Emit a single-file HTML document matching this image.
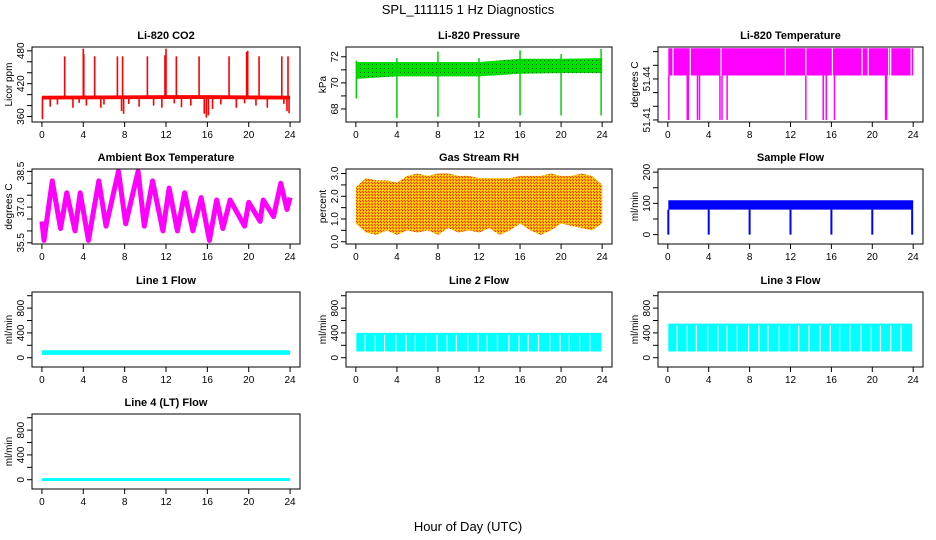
<!DOCTYPE html>
<html><head><meta charset="utf-8"><style>
body{margin:0;background:#fff}
svg{display:block;font-family:"Liberation Sans",sans-serif}
</style></head><body>
<svg id="c" width="936" height="540" viewBox="0 0 936 540">
<defs>
<pattern id="rhpat" width="3" height="3" patternUnits="userSpaceOnUse"><rect width="3" height="3" fill="#ffb000"/><rect width="1" height="1" fill="#ff2000"/><rect x="1" y="1" width="1" height="1" fill="#ffff00"/><rect x="2" y="2" width="1" height="1" fill="#ff4000"/></pattern>
<pattern id="prpat" width="4" height="4" patternUnits="userSpaceOnUse"><rect width="4" height="4" fill="#00e000"/><rect width="1" height="1" fill="#006000"/></pattern>
</defs>
<text x="468" y="14" text-anchor="middle" font-size="13">SPL_111115  1 Hz Diagnostics</text>
<text x="468" y="531" text-anchor="middle" font-size="13">Hour of Day (UTC)</text>
</svg>
<script>
// ---- data arrays ----
const hourTicks = [0,4,8,12,16,20,24];
// CO2
const co2BandT = [0,12,16,24];
const co2BandLo = [391,392,392,391];
const co2BandHi = [398,399,399,398];
const co2SpikeT = [2.2,4.0,4.05,5.1,7.3,7.8,10.2,11.9,12.0,13.0,15.2,18.1,19.8,19.9,21.0,23.2,23.8];
const co2SpikeV = [470,484,474,470,470,470,470,472,484,470,470,470,478,480,470,470,470];
const co2DipT = [0.05,0.8,1.5,3.0,3.6,4.3,5.7,6.0,7.7,7.9,8.4,9.4,10.8,11.6,12.8,13.5,14.4,15.7,15.9,16.1,16.5,17.3,18.8,19.6,20.7,21.8,23.4,23.7,23.9];
const co2DipV = [355,378,382,376,385,380,376,382,370,365,383,378,380,376,384,377,380,365,358,362,374,382,376,384,380,376,383,370,366];
// Pressure
const prBandT = [0,4,8,12,16,20,24];
const prBandLo = [70.3,70.5,70.5,70.5,70.7,70.75,70.75];
const prBandHi = [71.6,71.6,71.6,71.6,71.85,71.85,71.9];
const prDipT = [0.05,4,8,12,16,20,23.9];
const prDipV = [68.8,67.3,67.4,67.3,67.5,67.5,67.5];
const prSpikeV = [71.7,71.9,72.4,71.9,72.5,72.2,72.6];
// Li-820 temperature
const ltGapT = [0.5,2.2,5.2,11.5,13.5,16.1,19.0,19.6,21.6,21.8,23.8];
const ltDipT = [0.1,1.9,2.0,2.9,3.1,5.1,5.3,5.8,13.5,15.2,15.5,16.3,21.3,21.4];
const ltBandLo = 51.4425, ltBandHi = 51.4625, ltDipV = 51.41;
// Ambient box temperature (alternating extrema)
const ambT = [0,0.2,1.0,1.8,2.4,3.2,3.7,4.5,5.5,6.2,7.4,8.1,9.3,9.9,10.7,11.7,12.3,13.1,13.8,14.6,15.4,16.2,16.9,17.5,18.2,19.6,20.0,21.1,21.4,22.4,23.1,23.7,24];
const ambV = [36.4,35.6,38.1,36.1,37.6,36.0,37.6,35.6,38.1,36.2,38.5,36.3,38.5,36.2,38.1,36.0,37.8,36.0,37.6,36.0,37.4,35.6,37.3,36.1,37.3,36.2,37.2,36.4,37.3,36.6,38.0,36.9,37.4];
// Gas stream RH (hourly envelope)
const rhHi = [2.4,2.8,2.7,2.7,2.6,2.9,3.0,2.9,3.0,3.0,2.9,2.9,2.8,2.8,2.8,2.8,2.9,2.9,2.9,3.0,2.9,2.9,3.0,2.9,2.5];
const rhLo = [0.8,0.4,0.3,0.5,0.3,0.5,0.4,0.5,0.3,0.6,0.4,0.5,0.4,0.6,0.3,0.5,0.8,0.5,0.3,0.5,0.8,0.7,0.6,0.5,0.8];
// Sample flow
const sfLo = 80, sfHi = 110;
const sfDipT = [0.05,4,8,12,16,20,23.9];
const sfDipV = [0,0,0,0,0,0,0];
// Line flows
const l1Lo = 45, l1Hi = 120;
const l2Lo = 100, l2Hi = 400;
const l3Lo = 100, l3Hi = 550;
const l4Lo = -20, l4Hi = 25;
const lineGapT = [0.9,1.9,2.8,3.9,4.9,5.8,6.8,7.9,8.9,9.8,10.9,11.9,12.8,13.8,14.9,15.9,16.8,17.8,18.9,19.9,20.8,21.8,22.8];

// ---- helpers ----
const svg = document.getElementById('c');
const NS = 'http://www.w3.org/2000/svg';
function mk(tag, attrs, parent){const e=document.createElementNS(NS,tag);for(const k in attrs)e.setAttribute(k,attrs[k]);(parent||svg).appendChild(e);return e;}
const cols=[[32,300],[346,612],[658,923]];
const rows=[[47,122],[169,244],[292,367],[414,489]];
function panel(ci,ri,ymin,ymax,title,ylab,ticks,labels,name){
  const [L,R]=cols[ci],[T,B]=rows[ri];
  const g=mk('g',{});
  
  
  const xs=h=>L+(h+0.96)/25.92*(R-L);
  const ys=v=>B-(v-ymin)/(ymax-ymin)*(B-T);
  const t=mk('text',{x:(L+R)/2,y:T-8,'text-anchor':'middle','font-size':11,'font-weight':'bold'},g);t.textContent=title;
  
  
  const yl=mk('text',{transform:`translate(${L-20},${(T+B)/2}) rotate(-90)`,'text-anchor':'middle','font-size':10},g);yl.textContent=ylab;
  
  
  hourTicks.forEach(h=>{mk('line',{x1:xs(h),x2:xs(h),y1:B,y2:B+5,stroke:'#000'},g);
    const tx=mk('text',{x:xs(h),y:B+16,'text-anchor':'middle','font-size':10},g);tx.textContent=h;});
  ticks.forEach((v,i)=>{mk('line',{x1:L-5,x2:L,y1:ys(v),y2:ys(v),stroke:'#000'},g);
    if(labels[i]!==''){const tx=mk('text',{transform:`translate(${L-8},${ys(v)}) rotate(-90)`,'text-anchor':'middle','font-size':10},g);tx.textContent=labels[i];}});
  const data=mk('g',{},g);
  return {g,data,xs,ys,L,R,T,B};
}
function frame(p){mk('rect',{x:p.L,y:p.T,width:p.R-p.L,height:p.B-p.T,fill:'none',stroke:'#000'},p.g);}
function band(p,T,lo,hi,fill){
  let d='M'+T.map((t,i)=>p.xs(t)+','+p.ys(hi[i])).join('L');
  for(let i=T.length-1;i>=0;i--)d+='L'+p.xs(T[i])+','+p.ys(lo[i]);
  mk('path',{d:d+'Z',fill:fill},p.data);
}
function vlines(p,T,v0,V,color,w){T.forEach((t,i)=>mk('line',{x1:p.xs(t),x2:p.xs(t),y1:p.ys(Array.isArray(v0)?v0[i]:v0),y2:p.ys(V[i]),stroke:color,'stroke-width':w||1.2},p.data));}
const hrs=rhHi.map((_,i)=>i);

// CO2
let p=panel(0,0,350,487,'Li-820 CO2','Licor ppm',[360,380,400,420,440,460,480],['360','','','420','','','480'],'co2-panel');
band(p,co2BandT,co2BandLo,co2BandHi,'#ff0000');
vlines(p,co2SpikeT,395,co2SpikeV,'#ff0000',1.6);
vlines(p,co2DipT,395,co2DipV,'#ff0000',1.6);
frame(p);
// Pressure
p=panel(1,0,67.0,72.75,'Li-820 Pressure','kPa',[68,69,70,71,72],['68','','70','','72'],'pressure-panel');
band(p,prBandT,prBandLo,prBandHi,'url(#prpat)');
vlines(p,prDipT,71,prDipV,'#00d000',1.5);
vlines(p,prDipT,71,prSpikeV,'#00d000',1.5);
frame(p);
// Li temp
p=panel(2,0,51.4085,51.4634,'Li-820 Temperature','degrees C',[51.41,51.42,51.43,51.44,51.45,51.46],['51.41','','','51.44','',''],'li820-temperature-panel');
band(p,[0.05,24],[ltBandLo,ltBandLo],[ltBandHi,ltBandHi],'#ff00ff');
vlines(p,ltGapT,ltBandLo,ltGapT.map(()=>ltBandHi),'#ffffff',1.2);
vlines(p,ltDipT,ltBandLo,ltDipT.map(()=>ltDipV),'#ff00ff',1.5);
frame(p);
// Ambient
p=panel(0,1,35.45,38.6,'Ambient Box Temperature','degrees C',[35.5,36,36.5,37,37.5,38,38.5],['35.5','','','37.0','','','38.5'],'ambient-temperature-panel');
mk('polyline',{points:ambT.map((t,i)=>p.xs(t)+','+p.ys(ambV[i])).join(' '),fill:'none',stroke:'#ff00ff','stroke-width':5,'stroke-linejoin':'round'},p.data);
frame(p);
// RH
p=panel(1,1,-0.1,3.2,'Gas Stream RH','percent',[0,0.5,1,1.5,2,2.5,3],['0.0','','1.0','','2.0','','3.0'],'gas-stream-rh-panel');
band(p,hrs,rhLo,rhHi,'url(#rhpat)');
frame(p);
// Sample flow
p=panel(2,1,-30,210,'Sample Flow','ml/min',[0,50,100,150,200],['0','','100','','200'],'sample-flow-panel');
band(p,[0.05,24],[sfLo,sfLo],[sfHi,sfHi],'#0000ff');
vlines(p,sfDipT,sfLo,sfDipV,'#0000ff',2);
frame(p);
// Line flows
const fticks=[0,200,400,600,800,1000],flab=['0','','400','','800',''];
p=panel(0,2,-150,1060,'Line 1 Flow','ml/min',fticks,flab,'line1-flow-panel');
band(p,[0,24],[l1Lo,l1Lo],[l1Hi,l1Hi],'#00ffff');frame(p);
p=panel(1,2,-150,1060,'Line 2 Flow','ml/min',fticks,flab,'line2-flow-panel');
band(p,[0.05,23.9],[l2Lo,l2Lo],[l2Hi,l2Hi],'#00ffff');
vlines(p,lineGapT,l2Lo,lineGapT.map(()=>l2Hi-30),'#ffffff',1.2);frame(p);
p=panel(2,2,-150,1060,'Line 3 Flow','ml/min',fticks,flab,'line3-flow-panel');
band(p,[0.05,23.9],[l3Lo,l3Lo],[l3Hi,l3Hi],'#00ffff');
vlines(p,lineGapT,l3Lo,lineGapT.map(()=>l3Hi-30),'#ffffff',1.2);frame(p);
p=panel(0,3,-150,1060,'Line 4 (LT) Flow','ml/min',fticks,flab,'line4-flow-panel');
band(p,[0,24],[l4Lo,l4Lo],[l4Hi,l4Hi],'#00ffff');frame(p);
</script>
</body></html>
